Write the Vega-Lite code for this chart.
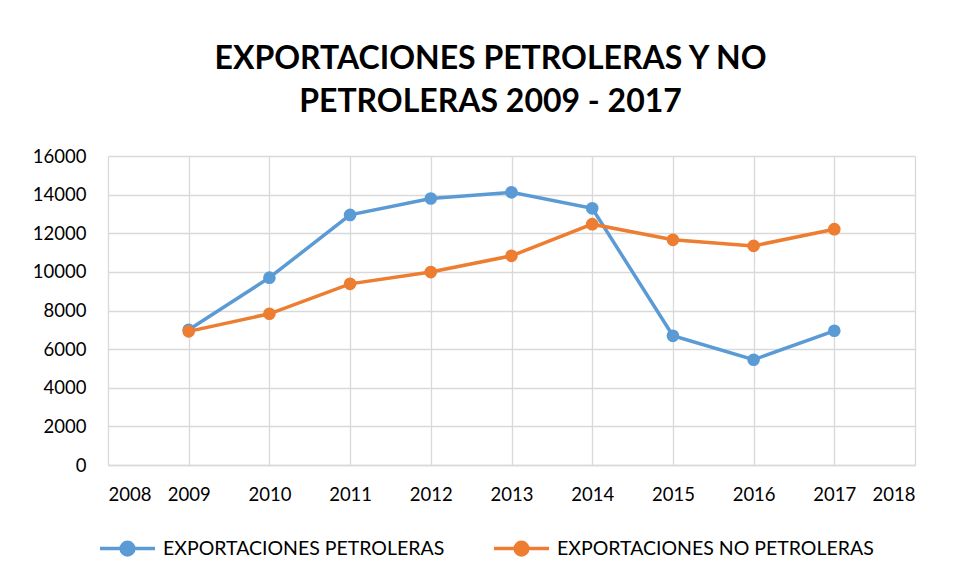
{
  "$schema": "https://vega.github.io/schema/vega-lite/v6.json",
  "width": 807,
  "height": 309,
  "autosize": {"type": "none"},
  "padding": {"left": 108, "top": 156, "right": 44, "bottom": 115},
  "background": "white",
  "title": {
    "text": ["EXPORTACIONES PETROLERAS Y NO", "PETROLERAS 2009 - 2017"],
    "font": "Lato",
    "fontSize": 32,
    "fontWeight": "bold",
    "color": "#000000",
    "lineHeight": 43,
    "anchor": "middle",
    "dx": -21,
    "offset": 28
  },
  "data": {
    "values": [
      {"year": 2009, "serie": "EXPORTACIONES PETROLERAS", "valor": 7000},
      {"year": 2010, "serie": "EXPORTACIONES PETROLERAS", "valor": 9700},
      {"year": 2011, "serie": "EXPORTACIONES PETROLERAS", "valor": 12950},
      {"year": 2012, "serie": "EXPORTACIONES PETROLERAS", "valor": 13800},
      {"year": 2013, "serie": "EXPORTACIONES PETROLERAS", "valor": 14120},
      {"year": 2014, "serie": "EXPORTACIONES PETROLERAS", "valor": 13290},
      {"year": 2015, "serie": "EXPORTACIONES PETROLERAS", "valor": 6690},
      {"year": 2016, "serie": "EXPORTACIONES PETROLERAS", "valor": 5450},
      {"year": 2017, "serie": "EXPORTACIONES PETROLERAS", "valor": 6950},
      {"year": 2009, "serie": "EXPORTACIONES NO PETROLERAS", "valor": 6920},
      {"year": 2010, "serie": "EXPORTACIONES NO PETROLERAS", "valor": 7830},
      {"year": 2011, "serie": "EXPORTACIONES NO PETROLERAS", "valor": 9380},
      {"year": 2012, "serie": "EXPORTACIONES NO PETROLERAS", "valor": 9990},
      {"year": 2013, "serie": "EXPORTACIONES NO PETROLERAS", "valor": 10830},
      {"year": 2014, "serie": "EXPORTACIONES NO PETROLERAS", "valor": 12470},
      {"year": 2015, "serie": "EXPORTACIONES NO PETROLERAS", "valor": 11660},
      {"year": 2016, "serie": "EXPORTACIONES NO PETROLERAS", "valor": 11345},
      {"year": 2017, "serie": "EXPORTACIONES NO PETROLERAS", "valor": 12210}
    ]
  },
  "encoding": {
    "x": {
      "field": "year",
      "type": "quantitative",
      "scale": {"domain": [2008, 2018], "nice": false, "zero": false},
      "axis": {
        "title": null,
        "values": [2008, 2009, 2010, 2011, 2012, 2013, 2014, 2015, 2016, 2017, 2018],
        "format": "d",
        "grid": true,
        "gridColor": "#d9d9d9",
        "gridWidth": 1.3,
        "domain": true,
        "domainColor": "#d9d9d9",
        "domainWidth": 1.3,
        "ticks": false,
        "labelPadding": 20,
        "labelFont": "Lato",
        "labelFontSize": 18.5,
        "labelColor": "#000000"
      }
    },
    "y": {
      "field": "valor",
      "type": "quantitative",
      "scale": {"domain": [0, 16000], "nice": false},
      "axis": {
        "title": null,
        "values": [0, 2000, 4000, 6000, 8000, 10000, 12000, 14000, 16000],
        "format": "d",
        "grid": true,
        "gridColor": "#d9d9d9",
        "gridWidth": 1.3,
        "domain": false,
        "ticks": false,
        "labelPadding": 22,
        "labelFont": "Lato",
        "labelFontSize": 18.5,
        "labelColor": "#000000"
      }
    },
    "color": {
      "field": "serie",
      "type": "nominal",
      "scale": {
        "domain": ["EXPORTACIONES PETROLERAS", "EXPORTACIONES NO PETROLERAS"],
        "range": ["#5b9bd5", "#ed7d31"]
      },
      "legend": {
        "title": null,
        "orient": "none",
        "direction": "horizontal",
        "legendX": -10,
        "legendY": 363,
        "symbolType": "M -1 0 L 1 0 M 0.23 0 A 0.23 0.23 0 1 1 -0.23 0 A 0.23 0.23 0 1 1 0.23 0 Z",
        "symbolSize": 3025,
        "symbolStrokeWidth": 3.5,
        "symbolOpacity": 1,
        "labelFont": "Lato",
        "labelFontSize": 19.5,
        "labelColor": "#000000",
        "labelOffset": 6,
        "columnPadding": 42,
        "labelLimit": 400
      }
    }
  },
  "layer": [
    {"mark": {"type": "line", "strokeWidth": 3.5}},
    {"mark": {"type": "point", "filled": true, "size": 160, "opacity": 1}}
  ],
  "config": {"view": {"stroke": null}}
}
